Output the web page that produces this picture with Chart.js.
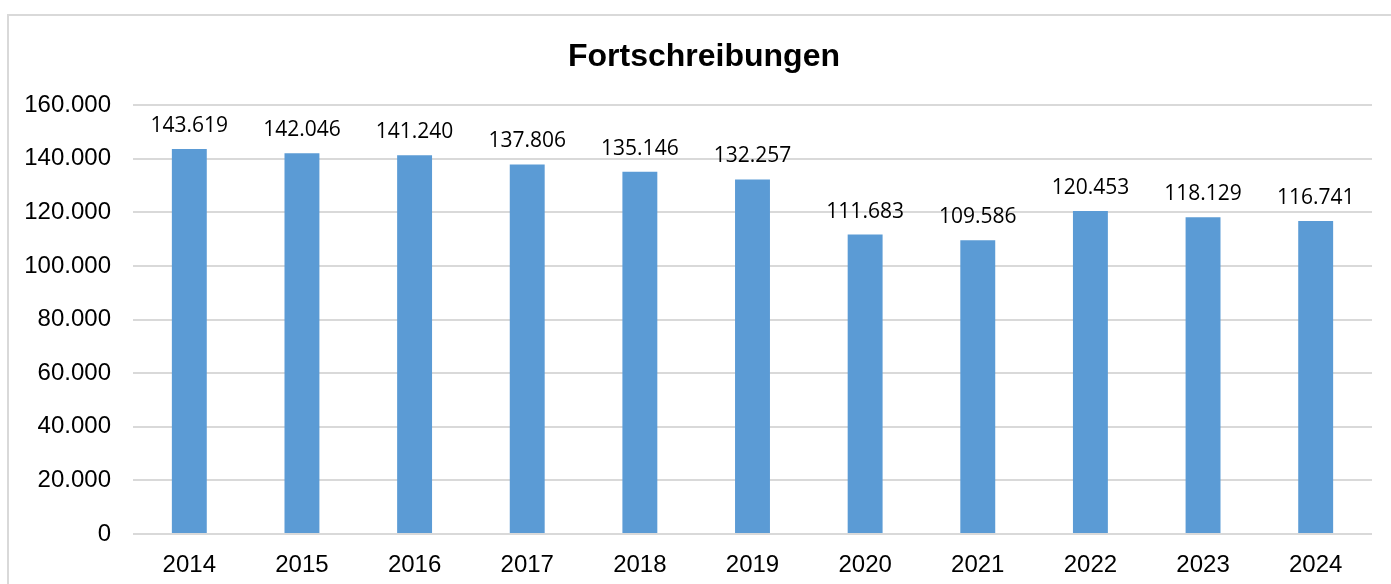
<!DOCTYPE html>
<html>
<head>
<meta charset="utf-8">
<script src="https://cdn.jsdelivr.net/npm/chart.js@4"></script>
<style>
  html, body { margin: 0; padding: 0; background: #fff; }
  #wrap { width: 1391px; height: 584px; position: relative; }
</style>
</head>
<body>
<div id="wrap"><canvas id="chart" width="1391" height="584"></canvas></div>
<script>
const years = ['2014', '2015', '2016', '2017', '2018', '2019', '2020', '2021', '2022', '2023', '2024'];
const fortschreibungen = [143619, 142046, 141240, 137806, 135146, 132257, 111683, 109586, 120453, 118129, 116741];
const yTicks = [0, 20000, 40000, 60000, 80000, 100000, 120000, 140000, 160000];
const chartTitle = 'Fortschreibungen';

// Tausenderpunkt wie im Original
function fmt(v) {
    return String(v).replace(/\B(?=(\d{3})+(?!\d))/g, '.');
}

// grauer Rahmen um die Grafik + Titel (Titel sitzt etwas rechts der Mitte)
const frame = {
    id: 'frame',
    beforeDraw(chart) {
        const c = chart.ctx;
        c.save();
        c.fillStyle = '#ffffff';
        c.fillRect(0, 0, chart.width, chart.height);
        c.strokeStyle = '#d9d9d9';
        c.lineWidth = 2;
        c.strokeRect(8, 15, chart.width + 20, chart.height + 20);
        c.font = 'bold 32px "Liberation Sans", Arial, sans-serif';
        c.fillStyle = '#000';
        c.textAlign = 'center';
        c.textBaseline = 'middle';
        c.fillText(chartTitle, 704, 57);
        c.restore();
    }
};

// Werte über den Balken
const valueLabels = {
    id: 'valueLabels',
    afterDatasetsDraw(chart) {
        const c = chart.ctx;
        const meta = chart.getDatasetMeta(0);
        c.save();
        c.font = '21px "Open Sans"';
        c.fillStyle = '#000';
        c.textAlign = 'center';
        c.textBaseline = 'middle';
        meta.data.forEach((bar, i) => {
            c.fillText(fmt(fortschreibungen[i]), bar.x, bar.y - 23);
        });
        c.restore();
    }
};

const ctx = document.getElementById('chart').getContext('2d');
new Chart(ctx, {
    type: 'bar',
    data: {
        labels: years,
        datasets: [{
            label: chartTitle,
            data: fortschreibungen,
            backgroundColor: '#5b9bd5',
            barPercentage: 0.31,
            categoryPercentage: 1
        }]
    },
    options: {
        responsive: false,
        animation: false,
        layout: { padding: { left: 0, right: 19, top: 105, bottom: 0 } },
        plugins: {
            legend: { display: false },
            tooltip: { enabled: false },
            title: { display: false }
        },
        scales: {
            x: {
                grid: { display: false },
                border: { display: false },
                ticks: {
                    color: '#000',
                    padding: 9,
                    font: { family: '"Liberation Sans", Arial, sans-serif', size: 24 }
                },
                afterFit(scale) { scale.height = 50; }
            },
            y: {
                min: 0,
                max: 160000,
                afterBuildTicks(scale) { scale.ticks = yTicks.map(v => ({ value: v })); },
                grid: { color: '#d9d9d9', lineWidth: 2, drawTicks: false },
                border: { display: false },
                ticks: {
                    color: '#000',
                    padding: 22,
                    font: { family: '"Liberation Sans", Arial, sans-serif', size: 24 },
                    callback: v => fmt(v)
                },
                afterFit(scale) { scale.width = 133; }
            }
        }
    },
    plugins: [frame, valueLabels]
});
</script>
</body>
</html>
